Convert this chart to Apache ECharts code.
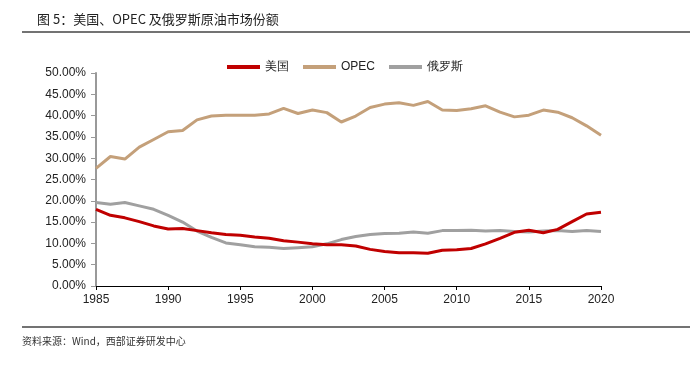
<!DOCTYPE html>
<html><head><meta charset="utf-8">
<script src="https://cdn.jsdelivr.net/npm/echarts@6/dist/echarts.min.js"></script>
<style>html,body{margin:0;padding:0;background:#fff}#c{width:690px;height:369px}</style>
</head><body><div id="c"></div>
<script>
const years = [];
for (let y = 1985; y <= 2020; y++) years.push(String(y));
const usShare = [18.0,16.6,16.0,15.1,14.1,13.4,13.5,13.0,12.5,12.1,11.9,11.5,11.2,10.6,10.3,9.9,9.7,9.7,9.4,8.6,8.1,7.8,7.8,7.7,8.4,8.5,8.8,9.9,11.2,12.6,13.1,12.5,13.3,15.1,16.9,17.3];
const opecShare = [27.6,30.4,29.8,32.6,34.4,36.2,36.5,39.0,39.9,40.1,40.1,40.1,40.4,41.7,40.5,41.3,40.7,38.5,39.9,41.9,42.7,43.0,42.4,43.3,41.3,41.2,41.6,42.3,40.8,39.7,40.1,41.3,40.8,39.5,37.6,35.4];
const russiaShare = [19.6,19.2,19.6,18.8,18.0,16.6,15.0,12.9,11.4,10.1,9.7,9.2,9.1,8.8,9.0,9.2,9.9,10.9,11.6,12.1,12.3,12.4,12.7,12.4,13.0,13.0,13.1,12.9,13.0,12.8,12.7,12.9,13.0,12.8,13.0,12.8];
const seriesNames = ['美国','OPEC','俄罗斯'];
const colors = ['#C00000','#C4A07A','#A0A0A0'];

const chart = echarts.init(document.getElementById('c'));
const cjk = '"Noto Sans CJK SC", sans-serif';
const lat = '"Liberation Sans", Arial, sans-serif';
chart.setOption({
  animation: false,
  title: {text: '图 5：美国、OPEC 及俄罗斯原油市场份额', left: 32, top: 8,
    textStyle: {fontFamily: cjk, fontSize: 13, fontWeight: 'normal', color: '#222'}},
  graphic: [
    {type: 'line', shape: {x1: 22, y1: 32, x2: 690, y2: 32}, style: {stroke: '#444', lineWidth: 1.5}},
    {type: 'line', shape: {x1: 22, y1: 327, x2: 690, y2: 327}, style: {stroke: '#444', lineWidth: 1.5}},
    {type: 'text', left: 22, top: 336, style: {text: '资料来源：Wind，西部证券研发中心', font: '10px ' + cjk, fill: '#333'}}
  ],
  legend: {top: 56, left: 'center', itemWidth: 33, itemHeight: 4, itemGap: 14,
    icon: 'rect', textStyle: {fontFamily: lat, fontSize: 12, color: '#222'},
    data: seriesNames},
  grid: {left: 96, right: 89, top: 73, bottom: 83},
  xAxis: {type: 'category', data: years, boundaryGap: false,
    axisLine: {lineStyle: {color: '#000', width: 1}},
    axisTick: {interval: 4, length: 4, lineStyle: {color: '#000'}},
    axisLabel: {interval: 4, fontFamily: lat, fontSize: 12, color: '#222', margin: 8}},
  yAxis: {type: 'value', min: 0, max: 50, interval: 5,
    axisLine: {show: true, lineStyle: {color: '#999', width: 2}},
    axisTick: {show: true, inside: false, length: 5, lineStyle: {color: '#999'}},
    splitLine: {show: false},
    axisLabel: {formatter: v => v.toFixed(2) + '%', fontFamily: lat, fontSize: 12, color: '#222', margin: 10}},
  series: [
    {name: seriesNames[0], type: 'line', data: usShare, symbol: 'none', lineStyle: {width: 3, color: colors[0]}, itemStyle: {color: colors[0]}, z: 3},
    {name: seriesNames[1], type: 'line', data: opecShare, symbol: 'none', lineStyle: {width: 3, color: colors[1]}, itemStyle: {color: colors[1]}, z: 2},
    {name: seriesNames[2], type: 'line', data: russiaShare, symbol: 'none', lineStyle: {width: 3, color: colors[2]}, itemStyle: {color: colors[2]}, z: 1}
  ]
});
</script></body></html>
